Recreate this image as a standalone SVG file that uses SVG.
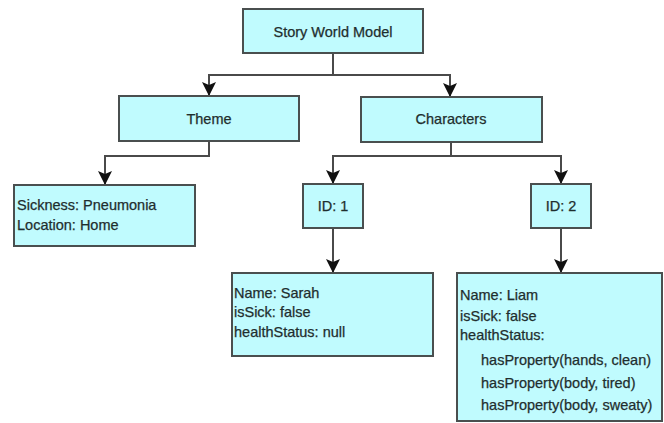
<svg xmlns="http://www.w3.org/2000/svg" width="664" height="423" viewBox="0 0 664 423">
<defs>
<marker id="arr" markerUnits="userSpaceOnUse" markerWidth="16" markerHeight="14" refX="14" refY="7" orient="auto" viewBox="0 0 16 14">
<path d="M0,0 L14,7 L0,14 L3,7 z" fill="#111"/>
</marker>
<style>
.box{fill:#c0fbfe;stroke:#4a4f4f;stroke-width:2}
.t{font-family:"Liberation Sans",Arial,sans-serif;font-size:14.5px;fill:#1f2e2e;stroke:#1f2e2e;stroke-width:0.25}
.c{text-anchor:middle}
.ln{fill:none;stroke:#4a4a4a;stroke-width:2}
</style>
</defs>
<rect width="664" height="423" fill="#fff"/>
<g id="connectors">
<path class="ln" d="M333,53 V75 H209 V96" marker-end="url(#arr)"/>
<path class="ln" d="M333,75 H450 V97" marker-end="url(#arr)"/>
<path class="ln" d="M209,141 V156 H105 V185" marker-end="url(#arr)"/>
<path class="ln" d="M451,142 V156 H333 V184" marker-end="url(#arr)"/>
<path class="ln" d="M451,156 H561 V184" marker-end="url(#arr)"/>
<path class="ln" d="M333,228 V273" marker-end="url(#arr)"/>
<path class="ln" d="M561,228 V273" marker-end="url(#arr)"/>
</g>
<g id="root">
<rect class="box" x="243" y="9" width="180" height="44"/>
<text class="t c" x="333" y="37">Story World Model</text>
</g>
<g id="theme">
<rect class="box" x="119" y="96" width="180" height="45"/>
<text class="t c" x="209" y="124">Theme</text>
</g>
<g id="characters">
<rect class="box" x="361" y="97" width="181" height="45"/>
<text class="t c" x="451" y="124">Characters</text>
</g>
<g id="themeDetails">
<rect class="box" x="14" y="185" width="181" height="61"/>
<text class="t" x="17" y="210">Sickness: Pneumonia</text>
<text class="t" x="17" y="230">Location: Home</text>
</g>
<g id="id1">
<rect class="box" x="303" y="184" width="60" height="44"/>
<text class="t c" x="333" y="211">ID: 1</text>
</g>
<g id="id2">
<rect class="box" x="531" y="184" width="60" height="44"/>
<text class="t c" x="561" y="211">ID: 2</text>
</g>
<g id="sarah">
<rect class="box" x="232" y="273" width="201" height="83"/>
<text class="t" x="234" y="298">Name: Sarah</text>
<text class="t" x="234" y="317">isSick: false</text>
<text class="t" x="234" y="337">healthStatus: null</text>
</g>
<g id="liam">
<rect class="box" x="457" y="273" width="205" height="148"/>
<text class="t" x="460" y="300">Name: Liam</text>
<text class="t" x="460" y="321">isSick: false</text>
<text class="t" x="460" y="340">healthStatus:</text>
<text class="t" x="481" y="365">hasProperty(hands, clean)</text>
<text class="t" x="481" y="388">hasProperty(body, tired)</text>
<text class="t" x="481" y="410">hasProperty(body, sweaty)</text>
</g>
</svg>
